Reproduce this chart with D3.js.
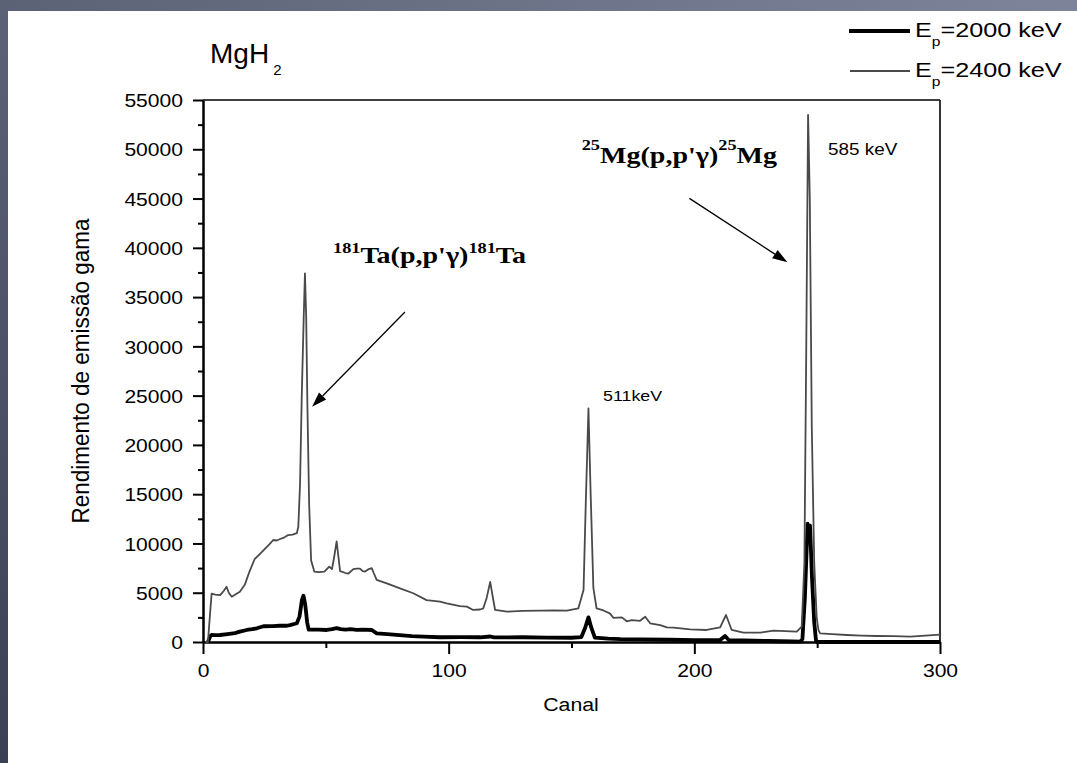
<!DOCTYPE html>
<html><head><meta charset="utf-8">
<script src="https://cdn.jsdelivr.net/npm/d3@7/dist/d3.min.js"></script>
<style>body{margin:0;padding:0;overflow:hidden}svg{display:block}</style>
</head><body>
<svg id="chart" width="1077" height="763"></svg>
<script>
// ---- data (channel, counts) ----
const thin2400 = [[1,0],[2,0],[3.5,4900],[5,4800],[7,4750],[8.5,5200],[9.6,5600],[10.5,5000],[11.7,4600],[13,4800],[15,5100],[17,5800],[19,7200],[21,8400],[23,8900],[25,9400],[27,9900],[28.6,10350],[30,10300],[31.4,10450],[33,10600],[34.7,10850],[36.5,10900],[38.2,11050],[38.8,11700],[39.5,16000],[40.2,25000],[41,33000],[41.5,37400],[42,33000],[42.5,24000],[43.2,14000],[44,8300],[45.3,7150],[47,7100],[49.4,7150],[51.4,7650],[52.5,7400],[53.3,8500],[54.4,10200],[55.2,8500],[55.8,7200],[58,7000],[59.2,6950],[61.2,7400],[62.6,7450],[63.9,7450],[65,7200],[66,7150],[67.5,7400],[68.7,7500],[69.5,7000],[70.7,6300],[74.8,5950],[80.2,5450],[85.6,4950],[91,4250],[96.5,4090],[99.2,3930],[104.6,3650],[107.4,3590],[110,3250],[112.8,3300],[114.1,3420],[115.5,4500],[116.9,6100],[118,4500],[118.9,3250],[123.7,3080],[130,3150],[137.2,3180],[143,3200],[148.1,3180],[152.8,3420],[154.9,5280],[155.8,14000],[156.9,23700],[157.8,15000],[158.9,5500],[160.2,3420],[163,3200],[165.6,2910],[167.1,2450],[170.5,2500],[172.5,2100],[174.5,2230],[177.9,2150],[180,2570],[182,1900],[186.1,1720],[188.8,1490],[191.5,1450],[198.3,1290],[205,1220],[210.5,1490],[212.9,2740],[215.2,1220],[220,950],[226.8,950],[232.2,1150],[237,1100],[241.7,1050],[243.7,1550],[244.8,8000],[245.5,28000],[246.3,53500],[247,45000],[247.8,22000],[248.8,8000],[249.8,2500],[250.5,1220],[251.2,880],[256,800],[262.1,710],[268,650],[274.3,610],[281,600],[287.9,540],[294,650],[300,750]];
const thick2000 = [[2,0],[3,600],[3.5,710],[5,700],[7,710],[10,800],[13,900],[15,1050],[17.8,1220],[20,1300],[21.9,1390],[24.6,1600],[28.6,1620],[31,1650],[34.1,1650],[35.4,1720],[38.2,1900],[39.3,2600],[40.3,4300],[40.9,4700],[41.6,3800],[42.4,2000],[43,1250],[44,1250],[47,1250],[50.4,1220],[52.5,1300],[54.4,1400],[56,1300],[58,1250],[60,1300],[62.6,1220],[65,1250],[68.7,1220],[70.7,880],[75,800],[80,700],[85,600],[89.7,540],[96.5,480],[105,500],[112.8,480],[116.9,560],[118.5,470],[130,480],[140,450],[150,430],[154,500],[155.5,1400],[156.9,2500],[158,1500],[159.5,450],[165,350],[170,300],[177.9,270],[190,230],[200,200],[210.5,200],[212.5,610],[214,200],[220,150],[230,100],[240,50],[243.1,30],[244,300],[245,4500],[246.1,12000],[246.6,11000],[247.1,11800],[247.9,6500],[248.8,2000],[249.5,200],[250,0],[260,0],[300,0]];
const xMajor = [0,100,200,300];
const xMinor = [50,150,250];
const yMajor = [0,5000,10000,15000,20000,25000,30000,35000,40000,45000,50000,55000];
const yMinor = [2500,7500,12500,17500,22500,27500,32500,37500,42500,47500,52500];
const legendLabels = ["=2000 keV","=2400 keV"];
// arrows in data coords [from, to]
const arrowTa = [[82.2,33490],[44.4,23880]];
const arrowMg = [[198,45020],[237.9,38530]];

const svg = d3.select("#chart");
const defs = svg.append("defs");
const grad = defs.append("linearGradient").attr("id","bg").attr("x1","0").attr("y1","1").attr("x2","1").attr("y2","0");
grad.append("stop").attr("offset","0").attr("stop-color","#3b4152");
grad.append("stop").attr("offset","1").attr("stop-color","#7e849a");
svg.append("rect").attr("width",1077).attr("height",763).attr("fill","url(#bg)");
svg.append("rect").attr("x",8).attr("y",11).attr("width",1069).attr("height",752).attr("fill","#fff");

const L=203,R=940,T=100,B=642;
const x = d3.scaleLinear().domain([0,300]).range([L,R]);
const y = d3.scaleLinear().domain([0,55000]).range([B,T]);

const SANS = "'Liberation Sans', Arial, sans-serif";
const SERIF = "'Liberation Serif', 'Times New Roman', serif";

// frame
svg.append("line").attr("x1",L).attr("x2",R).attr("y1",T).attr("y2",T).attr("stroke","#000").attr("stroke-width",1.6);
svg.append("line").attr("x1",R).attr("x2",R).attr("y1",T).attr("y2",B).attr("stroke","#000").attr("stroke-width",1.6);

// axes
function styleAxis(g, fs){
  g.select(".domain").attr("stroke","#000").attr("stroke-width",2);
  g.selectAll(".tick line").attr("stroke","#000").attr("stroke-width",2);
  g.selectAll(".tick text").attr("font-family",SANS).attr("font-size",fs).attr("fill","#000");
}
const gyMin = svg.append("g").attr("transform",`translate(${L},0)`).call(d3.axisLeft(y).tickValues(yMinor).tickSize(5).tickSizeOuter(0).tickFormat(""));
styleAxis(gyMin,0);
const gy = svg.append("g").attr("transform",`translate(${L},0)`).call(d3.axisLeft(y).tickValues(yMajor).tickSize(10).tickSizeOuter(0).tickPadding(9).tickFormat(d3.format("d")));
styleAxis(gy,"18.5px");
gy.selectAll(".tick text").attr("transform","scale(1.14,1)").attr("x",-20/1.14).attr("dy","0.36em");
const gxMin = svg.append("g").attr("transform",`translate(0,${B})`).call(d3.axisBottom(x).tickValues(xMinor).tickSize(6).tickSizeOuter(0).tickFormat(""));
styleAxis(gxMin,0);
const gx = svg.append("g").attr("transform",`translate(0,${B})`).call(d3.axisBottom(x).tickValues(xMajor).tickSize(12).tickSizeOuter(0).tickPadding(7).tickFormat(d3.format("d")));
styleAxis(gx,"18.5px");
gx.selectAll(".tick text").attr("transform","scale(1.14,1)").attr("dy","0.86em");

// lines
const line = d3.line().x(d=>x(d[0])).y(d=>y(d[1]));
svg.append("path").datum(thick2000).attr("d",line).attr("fill","none").attr("stroke","#000").attr("stroke-width",3.8).attr("stroke-linejoin","round");
svg.append("path").datum(thin2400).attr("d",line).attr("fill","none").attr("stroke","#4a4a4a").attr("stroke-width",1.8).attr("stroke-linejoin","round");

// text helper: parts [{t,size,dy,dx,weight}]
function stext(px,py,sx,family,parts,anchor){
  const t = svg.append("text").attr("transform",`translate(${px},${py}) scale(${sx},1)`)
    .attr("font-family",family).attr("fill","#000").attr("text-anchor",anchor||"start");
  parts.forEach(p=>{
    t.append("tspan").attr("font-size",p.size).attr("dy",p.dy||0).attr("dx",p.dx||0).attr("font-weight",p.weight||"normal").text(p.t);
  });
  return t;
}
// title
stext(210,63,1.0,SANS,[{t:"MgH",size:28},{t:"2",size:15,dy:12,dx:4}]);
// legend
svg.append("line").attr("x1",849).attr("x2",910).attr("y1",31).attr("y2",31).attr("stroke","#000").attr("stroke-width",3.8);
svg.append("line").attr("x1",850).attr("x2",910).attr("y1",71).attr("y2",71).attr("stroke","#4a4a4a").attr("stroke-width",1.8);
stext(915,37,1.2,SANS,[{t:"E",size:21},{t:"p",size:13,dy:9},{t:legendLabels[0],size:21,dy:-9}]);
stext(915,77,1.2,SANS,[{t:"E",size:21},{t:"p",size:13,dy:9},{t:legendLabels[1],size:21,dy:-9}]);
// axis titles
stext(571,711,1.12,SANS,[{t:"Canal",size:19}],"middle");
svg.append("text").attr("transform","translate(89,371) rotate(-90) scale(1,1.05)").attr("font-family",SANS).attr("font-size",22.5).attr("text-anchor","middle").text("Rendimento de emissão gama");
// peak labels
stext(603,401,1.15,SANS,[{t:"511keV",size:15.5}]);
stext(828,155,1.18,SANS,[{t:"585 keV",size:16}]);
// reaction annotations
stext(333,263,1.22,SERIF,[{t:"181",size:15,weight:"bold",dy:-10},{t:"Ta(p,p'γ)",size:23,weight:"bold",dy:10},{t:"181",size:15,weight:"bold",dy:-10},{t:"Ta",size:23,weight:"bold",dy:10}]);
stext(581.7,163,1.22,SERIF,[{t:"25",size:15,weight:"bold",dy:-13},{t:"Mg(p,p'γ)",size:23,weight:"bold",dy:13},{t:"25",size:15,weight:"bold",dy:-13},{t:"Mg",size:23,weight:"bold",dy:13}]);

// arrows
function arrow(a){
  const x1=x(a[0][0]),y1=y(a[0][1]),x2=x(a[1][0]),y2=y(a[1][1]);
  const ang=Math.atan2(y2-y1,x2-x1), len=15, hw=5;
  const bx=x2-len*Math.cos(ang), by=y2-len*Math.sin(ang);
  svg.append("line").attr("x1",x1).attr("y1",y1).attr("x2",bx).attr("y2",by).attr("stroke","#000").attr("stroke-width",1.3);
  const p=[[x2,y2],[bx+hw*Math.sin(ang),by-hw*Math.cos(ang)],[bx-hw*Math.sin(ang),by+hw*Math.cos(ang)]];
  svg.append("path").attr("d","M"+p.map(q=>q.join(",")).join("L")+"Z").attr("fill","#000");
}
arrow(arrowTa); arrow(arrowMg);
</script>
</body></html>
